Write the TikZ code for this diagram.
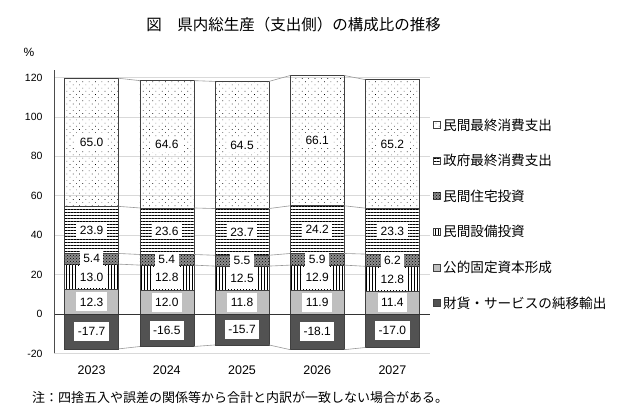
\documentclass[tikz,border=0pt]{standalone}
\usepackage{fontspec}
\setmainfont{Liberation Sans}
\newfontfamily\jpfont{Noto Sans CJK JP}
\usetikzlibrary{patterns,patterns.meta}

\begin{document}
\begin{tikzpicture}[x=1pt,y=1pt,
	seg/.style={draw=black!75,line width=0.6pt},
	pcons/.style={pattern={Dots[distance=4.5pt,angle=45,radius=0.45pt]}},
	gcons/.style={pattern={Lines[angle=0,distance=3pt,line width=0.6pt]}},
	house/.style={fill=black!45,postaction={pattern=crosshatch dots}},
	equip/.style={pattern={Lines[angle=90,distance=3pt,line width=0.6pt]}},
	pubinv/.style={fill=black!25},
	netex/.style={fill=black!68},
	vallab/.style={fill=white,inner xsep=3.5pt,inner ysep=1pt,minimum height=15pt,font=\fontsize{12}{13}\selectfont},
	gridline/.style={draw=black!15,line width=0.6pt},
	serline/.style={draw=black!40,line width=0.6pt}]
	\fill[white] (0,0) rectangle (620,419);

	\node[font=\jpfont\fontsize{15.5}{17}\selectfont] (title) at (293.5,394) {図　県内総生産（支出側）の構成比の推移};
	\node[font=\fontsize{12}{13}\selectfont] (pct) at (29,367) {\%};

	\begin{scope}[yshift=105pt,y=1.971pt]
		\foreach \v in {-20,20,40,...,120}
			\draw[gridline] (54,\v) -- (430,\v);
		\foreach \v in {-20,0,20,...,120}
			\node[anchor=east,font=\fontsize{10.5}{12}\selectfont] (tick\v) at (46,\v) {\v};

		% bars
		\foreach \yr/\nx/\pub/\eqp/\hou/\gov/\pcs [count=\i from 0] in
			{2023/-17.7/12.3/13.0/5.4/23.9/65.0,
			 2024/-16.5/12.0/12.8/5.4/23.6/64.6,
			 2025/-15.7/11.8/12.5/5.5/23.7/64.5,
			 2026/-18.1/11.9/12.9/5.9/24.2/66.1,
			 2027/-17.0/11.4/12.8/6.2/23.3/65.2}
		{
			\pgfmathsetmacro\xl{64.6+75.2*\i}
			\pgfmathsetmacro\xr{\xl+54}
			\pgfmathsetmacro\xc{\xl+27}
			\pgfmathsetmacro\ya{\pub}
			\pgfmathsetmacro\yb{\ya+\eqp}
			\pgfmathsetmacro\yc{\yb+\hou}
			\pgfmathsetmacro\yd{\yc+\gov}
			\pgfmathsetmacro\ye{\yd+\pcs}
			\draw[seg,netex] (\xl,\nx) rectangle (\xr,0);
			\draw[seg,pubinv] (\xl,0) rectangle (\xr,\ya);
			\draw[seg,equip] (\xl,\ya) rectangle (\xr,\yb);
			\draw[seg,house] (\xl,\yb) rectangle (\xr,\yc);
			\draw[seg,gcons] (\xl,\yc) rectangle (\xr,\yd);
			\draw[seg,pcons] (\xl,\yd) rectangle (\xr,\ye);
			\coordinate (l\i-0) at (\xl,\nx);  \coordinate (r\i-0) at (\xr,\nx);
			\coordinate (l\i-1) at (\xl,\ya);  \coordinate (r\i-1) at (\xr,\ya);
			\coordinate (l\i-2) at (\xl,\yb);  \coordinate (r\i-2) at (\xr,\yb);
			\coordinate (l\i-3) at (\xl,\yc);  \coordinate (r\i-3) at (\xr,\yc);
			\coordinate (l\i-4) at (\xl,\yd);  \coordinate (r\i-4) at (\xr,\yd);
			\coordinate (l\i-5) at (\xl,\ye);  \coordinate (r\i-5) at (\xr,\ye);
			\node[vallab,minimum height=19pt] (nx\yr) at (\xc,\nx/2) {\nx};
			\node[vallab,minimum height=19pt] (pub\yr) at (\xc,\ya/2) {\pub};
			\node[vallab,minimum height=22pt] (eqp\yr) at (\xc,\ya/2+\yb/2) {\eqp};
			\node[vallab] (hou\yr) at (\xc,\yb/2+\yc/2) {\hou};
			\node[vallab] (gov\yr) at (\xc,\yc/2+\yd/2) {\gov};
			\node[vallab] (pcs\yr) at (\xc,\yd/2+\ye/2) {\pcs};
			\node[font=\fontsize{12.5}{14}\selectfont] (yr\yr) at (\xc,-28.4) {\yr};
		}

		% series lines
		\foreach \i [evaluate=\i as \j using int(\i+1)] in {0,...,3}
			\foreach \k in {0,2,3,4,5}
				\draw[serline] (r\i-\k) -- (l\j-\k);

		\draw[black!80,line width=0.7pt] (54,0) -- (430,0);
		\draw[black!70,line width=0.7pt] (54,-20) -- (54,124);
	\end{scope}

	% legend
	\foreach \lab/\sty [count=\n from 0] in
		{民間最終消費支出/pcons,政府最終消費支出/gcons,民間住宅投資/house,
		 民間設備投資/equip,公的固定資本形成/pubinv,財貨・サービスの純移輸出/netex}
	{
		\pgfmathsetmacro\ly{294-35.6*\n}
		\draw[seg,\sty] (433,\ly-3.5) rectangle (440,\ly+3.5);
		\node[anchor=west,inner sep=0,font=\jpfont\fontsize{13.6}{15}\selectfont] (leg\n) at (443,\ly) {\lab};
	}

	\node[anchor=west,inner sep=0,font=\jpfont\fontsize{13}{15}\selectfont] (note) at (32,21) {注：四捨五入や誤差の関係等から合計と内訳が一致しない場合がある。};
\end{tikzpicture}
\end{document}
